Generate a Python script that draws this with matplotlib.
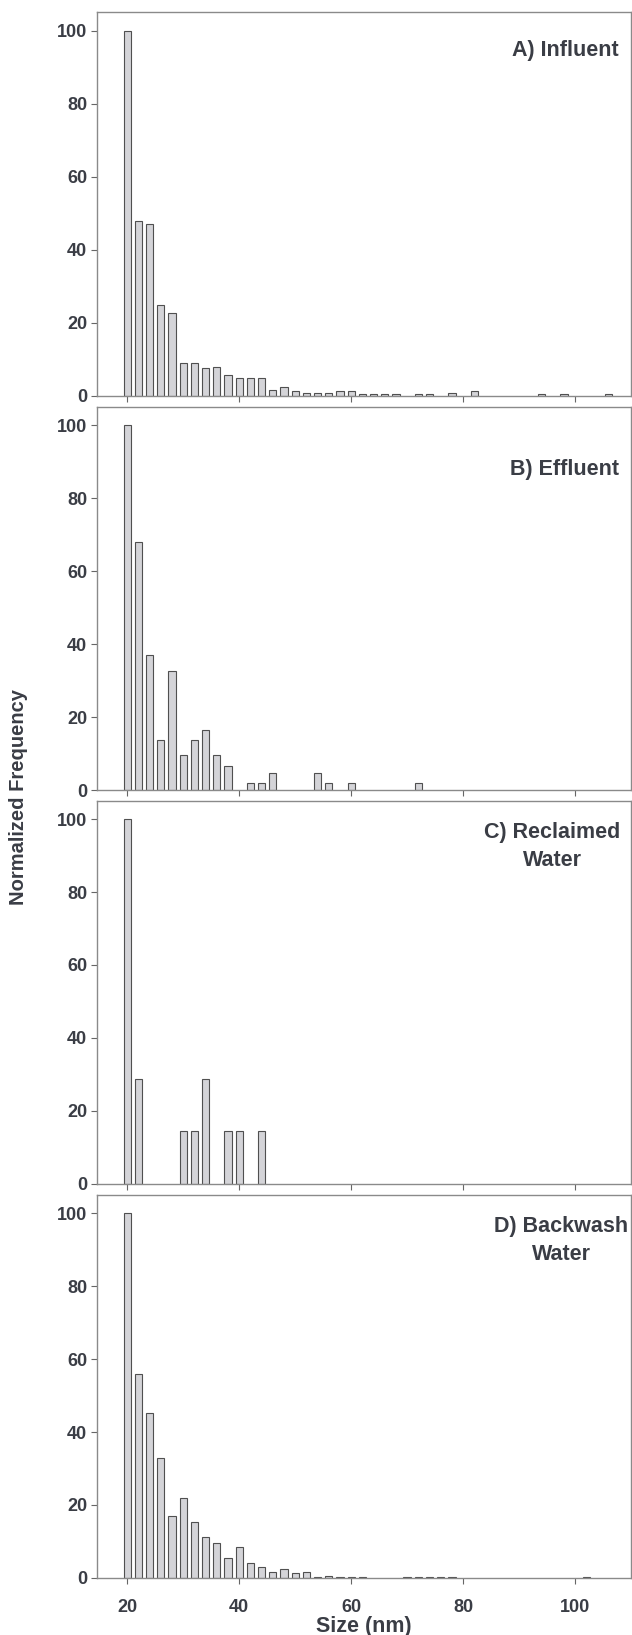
import matplotlib
matplotlib.use("Agg")
import matplotlib.pyplot as plt

# bin centres (nm) and normalized frequencies
sizes_a = [20, 22, 24, 26, 28, 30, 32, 34, 36, 38, 40, 42, 44, 46, 48, 50, 52, 54,
           56, 58, 60, 62, 64, 66, 68, 72, 74, 78, 82, 94, 98, 106]
freq_a = [100, 48, 47, 25, 22.8, 8.9, 8.9, 7.6, 7.9, 5.8, 4.9, 4.9, 4.9, 1.6, 2.4, 1.5, 0.8, 0.8,
          0.8, 1.5, 1.5, 0.6, 0.6, 0.6, 0.6, 0.6, 0.6, 0.8, 1.5, 0.6, 0.6, 0.6]

sizes_b = [20, 22, 24, 26, 28, 30, 32, 34, 36, 38, 42, 44, 46, 54, 56, 60, 72]
freq_b = [100, 67.9, 37.0, 13.7, 32.7, 9.6, 13.7, 16.4, 9.6, 6.7, 1.9, 1.9, 4.7, 4.7, 1.9, 1.9, 1.9]

sizes_c = [20, 22, 30, 32, 34, 38, 40, 44]
freq_c = [100, 28.6, 14.3, 14.3, 28.6, 14.3, 14.3, 14.3]

sizes_d = [20, 22, 24, 26, 28, 30, 32, 34, 36, 38, 40, 42, 44, 46, 48, 50, 52, 54,
           56, 58, 60, 62, 70, 72, 74, 76, 78, 102]
freq_d = [100, 56.0, 45.3, 33.0, 17.0, 22.0, 15.4, 11.1, 9.5, 5.6, 8.6, 4.2, 3.0, 1.6, 2.4, 1.3, 1.6, 0.35,
          0.6, 0.3, 0.3, 0.3, 0.3, 0.3, 0.3, 0.3, 0.3, 0.3]

labels = ["A) Influent", "B) Effluent", "C) Reclaimed\nWater", "D) Backwash\nWater"]
x_ticks = [20, 40, 60, 80, 100]
y_ticks = [0, 20, 40, 60, 80, 100]

TEXT = "#3a3d45"
SPINE = "#8a8a8a"
FONT = "Liberation Sans"

panels = [(sizes_a, freq_a), (sizes_b, freq_b), (sizes_c, freq_c), (sizes_d, freq_d)]
# axes boxes in figure fractions: left, bottom, width, height
boxes = [(0.1535, 0.7578, 0.845, 0.2346),
         (0.1535, 0.5168, 0.845, 0.2343),
         (0.1535, 0.2761, 0.845, 0.2340),
         (0.1535, 0.0349, 0.845, 0.2343)]
label_pos = [(0.876, 0.900), (0.876, 0.838), (0.852, 0.880), (0.869, 0.881)]

fig = plt.figure(figsize=(6.32, 16.35), dpi=100)

for i, ((sizes, freq), box) in enumerate(zip(panels, boxes)):
    ax = fig.add_axes(box)
    ax.bar(sizes, freq, width=1.3, color="#d4d4d8", edgecolor="#505050", linewidth=0.8)
    ax.set_xlim(14.6, 110)
    ax.set_ylim(0, 105)
    ax.set_xticks(x_ticks)
    ax.set_yticks(y_ticks)
    for s in ax.spines.values():
        s.set_color(SPINE)
        s.set_linewidth(1.0)
    ax.tick_params(direction="out", length=4, width=0.8, color="#666666",
                   labelcolor=TEXT, labelsize=13, pad=3)
    ax.tick_params(axis="x", pad=11)
    for lab in ax.get_yticklabels() + ax.get_xticklabels():
        lab.set_fontweight("bold")
        lab.set_fontfamily(FONT)
    if i < 3:
        ax.set_xticklabels([])
    else:
        ax.set_xlabel("Size (nm)", fontsize=15.5, fontweight="bold", color=TEXT,
                      family=FONT, labelpad=0)
    lx, ly = label_pos[i]
    ax.text(lx, ly, labels[i], transform=ax.transAxes, ha="center", va="center",
            multialignment="center", fontsize=15.5, fontweight="bold", color=TEXT,
            family=FONT, linespacing=1.45)

fig.text(19 / 632, 1 - 797 / 1635, "Normalized Frequency", rotation=90,
         ha="center", va="center", fontsize=14.5, fontweight="bold", color=TEXT,
         family=FONT)

fig.savefig("out.png", dpi=100)
